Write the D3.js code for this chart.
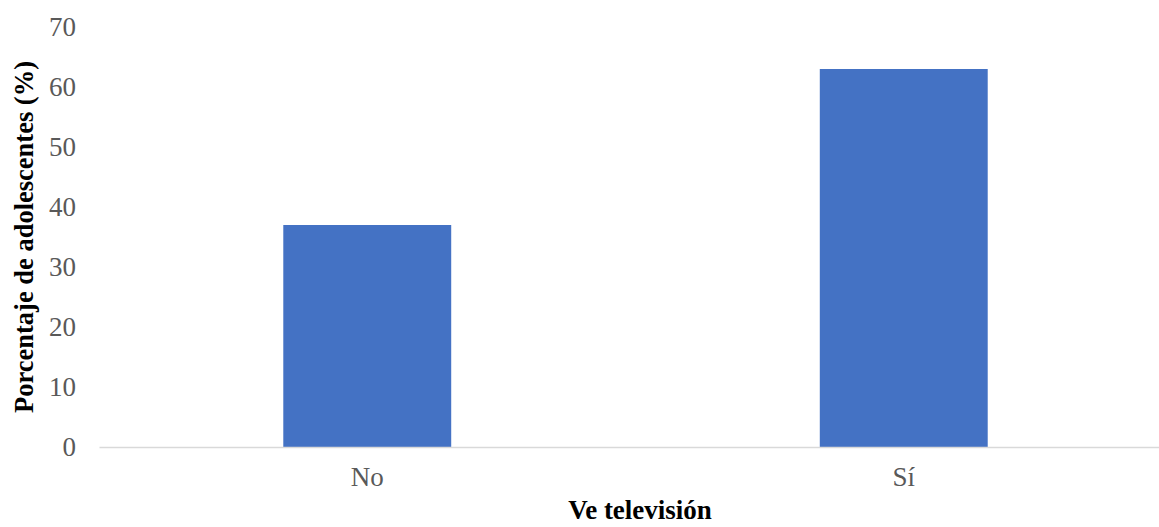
<!DOCTYPE html>
<html>
<head>
<meta charset="utf-8">
<script src="https://cdn.jsdelivr.net/npm/d3@7"></script>
<style>
  html, body { margin: 0; padding: 0; background: #fff; }
  svg { display: block; }
</style>
</head>
<body>
<div id="chart"></div>
<script>
// Porcentaje de adolescentes según si ven televisión
const categories = ["No", "Sí"];
const values = [37, 63];
const yTicks = [0, 10, 20, 30, 40, 50, 60, 70];

const width = 1159, height = 527;
const margin = { left: 99, right: -13, top: 27, bottom: 80 };

const svg = d3.select("#chart").append("svg")
  .attr("width", width)
  .attr("height", height);

const x = d3.scaleBand()
  .domain(categories)
  .range([margin.left, width - margin.right])
  .paddingInner(0.687)
  .paddingOuter(0.3435);

const y = d3.scaleLinear()
  .domain([0, 70])
  .range([height - margin.bottom, margin.top]);

const font = "'Liberation Serif', 'Times New Roman', serif";

// Bars
svg.append("g")
  .selectAll("rect")
  .data(values)
  .join("rect")
  .attr("x", (d, i) => x(categories[i]))
  .attr("y", d => y(d))
  .attr("width", x.bandwidth())
  .attr("height", d => y(0) - y(d))
  .attr("fill", "#4472c4");

// Y axis (labels only)
const yAxis = svg.append("g")
  .attr("transform", `translate(${margin.left},0)`)
  .call(d3.axisLeft(y).tickValues(yTicks).tickSize(0).tickPadding(23));
yAxis.select(".domain").remove();
yAxis.selectAll("text")
  .attr("font-family", font)
  .attr("font-size", 27)
  .attr("fill", "#595959");

// X axis baseline and labels
const xAxis = svg.append("g")
  .attr("transform", `translate(0,${y(0)})`)
  .call(d3.axisBottom(x).tickSize(0).tickPadding(20));
xAxis.select(".domain")
  .attr("stroke", "#d9d9d9")
  .attr("stroke-width", 1.5);
xAxis.selectAll("text")
  .attr("font-family", font)
  .attr("font-size", 27)
  .attr("fill", "#595959");

// Axis titles
svg.append("text")
  .attr("transform", `translate(33,${(y(0) + y(70)) / 2}) rotate(-90)`)
  .attr("text-anchor", "middle")
  .attr("font-family", font)
  .attr("font-weight", "bold")
  .attr("font-size", 26.5)
  .attr("fill", "#000")
  .text("Porcentaje de adolescentes (%)");

svg.append("text")
  .attr("x", 640)
  .attr("y", 519)
  .attr("text-anchor", "middle")
  .attr("font-family", font)
  .attr("font-weight", "bold")
  .attr("font-size", 27)
  .attr("fill", "#000")
  .text("Ve televisión");
</script>
</body>
</html>
